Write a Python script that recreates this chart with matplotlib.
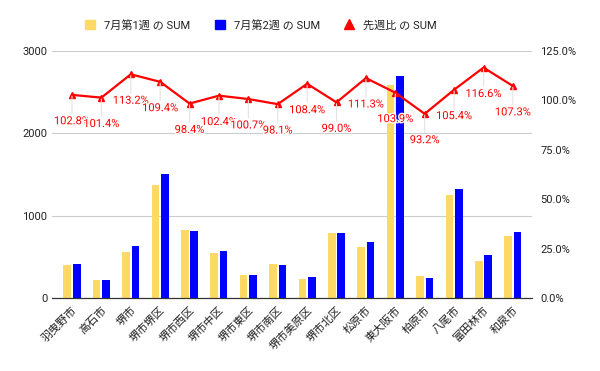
import matplotlib
matplotlib.use("Agg")
import matplotlib.pyplot as plt
import matplotlib.patheffects as pe
from matplotlib.lines import Line2D
from matplotlib.patches import Patch
import numpy as np

plt.rcParams['font.family'] = ['Roboto', 'Noto Sans CJK JP', 'DejaVu Sans']

# ── data ──────────────────────────────────────────────────────────────────────
areas = ['羽曳野市', '高石市', '堺市', '堺市堺区', '堺市西区', '堺市中区', '堺市東区',
         '堺市南区', '堺市美原区', '堺市北区', '松原市', '東大阪市', '柏原市', '八尾市',
         '富田林市', '和泉市']
week1 = [398, 217, 554, 1373, 831, 542, 277, 410, 229, 795, 614, 2590, 265, 1253, 446, 747]
week2 = [410, 220, 627, 1506, 819, 566, 279, 403, 249, 788, 684, 2699, 247, 1322, 520, 802]
ratio = [102.8, 101.4, 113.2, 109.4, 98.4, 102.4, 100.7, 98.1, 108.4, 99.0, 111.3,
         103.9, 93.2, 105.4, 116.6, 107.3]
left_ticks = [0, 1000, 2000, 3000]
right_ticks = [0, 25, 50, 75, 100, 125]

YELLOW = '#FFD966'
BLUE = '#0000FF'
RED = '#FF0000'
TXT = '#222222'

fig = plt.figure(figsize=(6, 3.71), dpi=100)
ax = fig.add_axes([52 / 600, 1 - 298 / 371, 480 / 600, 247 / 371])
ax2 = ax.twinx()

x = np.arange(len(areas))
w = 0.26
ax.bar(x - 0.16, week1, w, color=YELLOW, zorder=2)
ax.bar(x + 0.16, week2, w, color=BLUE, zorder=2)

ax.set_xlim(-0.68, len(areas) - 1 + 0.65)
ax.set_ylim(0, 3000)
ax.set_yticks(left_ticks)
ax.set_yticklabels([str(t) for t in left_ticks])
ax.yaxis.grid(True, color='#cccccc', linewidth=0.8, zorder=0)
ax.set_axisbelow(True)
ax.set_xticks(x)
ax.set_xticklabels(areas, rotation=45, ha='right', rotation_mode='anchor')
ax.tick_params(axis='both', length=0, labelsize=8, colors=TXT)
ax.tick_params(axis='x', pad=5)

ax2.set_ylim(0, 125)
ax2.set_yticks(right_ticks)
ax2.set_yticklabels([f'{t:.1f}%' for t in right_ticks])
ax2.tick_params(axis='y', length=0, labelsize=8, colors=TXT, pad=6)

for a in (ax, ax2):
    for s in ('top', 'left', 'right'):
        a.spines[s].set_visible(False)
    a.spines['bottom'].set_color('#333333')

ax2.plot(x, ratio, color=RED, linewidth=1.6, marker='^', markersize=4.5, zorder=4)
for xi, r in zip(x, ratio):
    ax2.annotate(f'{r:.1f}%', (xi, r), xytext=(0, -19), textcoords='offset points',
                 ha='center', va='center', fontsize=8, color=RED, zorder=5,
                 arrowprops=dict(arrowstyle='-', color='#e3e3e3', lw=0.8,
                                 shrinkA=0, shrinkB=1),
                 path_effects=[pe.withStroke(linewidth=2, foreground='white')])

handles = [Patch(color=YELLOW), Patch(color=BLUE),
           Line2D([], [], color=RED, marker='^', linestyle='none', markersize=7)]
labels = ['7月第1週 の SUM', '7月第2週 の SUM', '先週比 の SUM']
fig.legend(handles, labels, loc='center', bbox_to_anchor=(261 / 600, 1 - 25 / 371),
           ncol=3, frameon=False, fontsize=8, handlelength=0.9, handleheight=0.9,
           columnspacing=2.2, handletextpad=0.8, labelcolor=TXT)

fig.savefig('out.png', dpi=100)
